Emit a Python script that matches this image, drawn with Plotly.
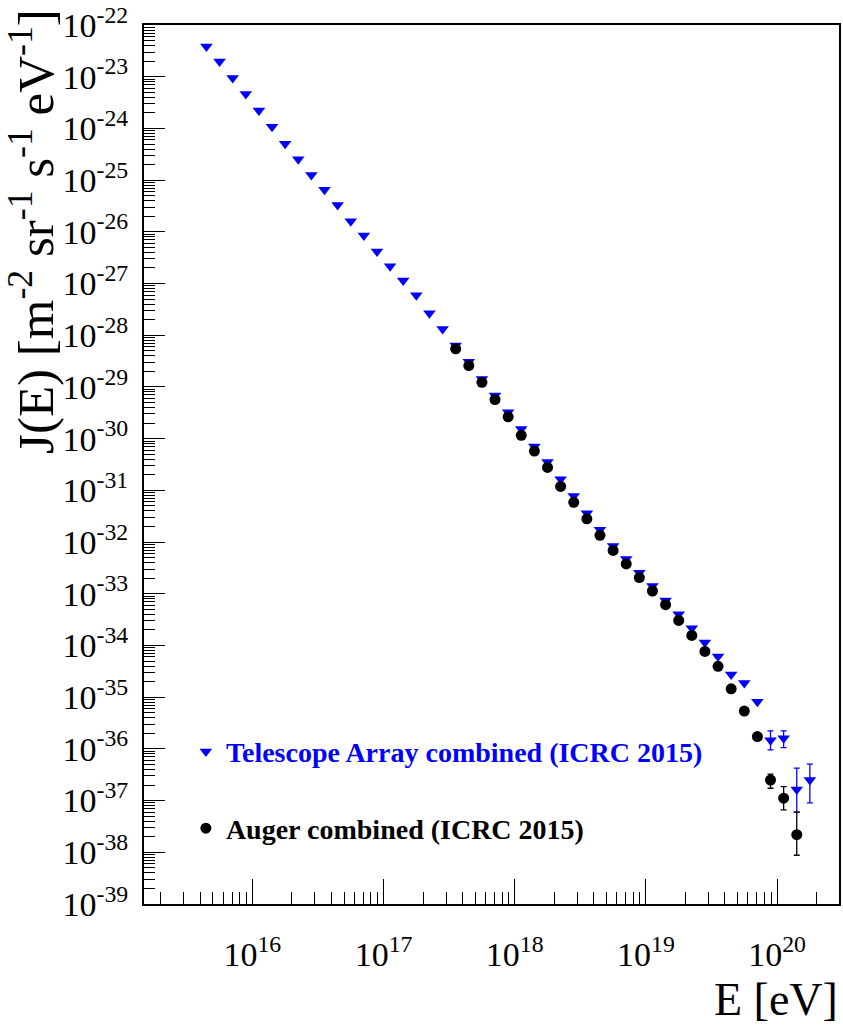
import math
import plotly.graph_objects as go

# ---------------- data ----------------
# Telescope Array combined (ICRC 2015): log10(E/eV) bin centres and flux J(E) [m^-2 sr^-1 s^-1 eV^-1]
ta_lgE = [15.65, 15.75, 15.85, 15.95, 16.05, 16.15, 16.25, 16.35, 16.45, 16.55,
          16.65, 16.75, 16.85, 16.95, 17.05, 17.15, 17.25, 17.35, 17.45, 17.55,
          17.65, 17.75, 17.85, 17.95, 18.05, 18.15, 18.25, 18.35, 18.45, 18.55,
          18.65, 18.75, 18.85, 18.95, 19.05, 19.15, 19.25, 19.35, 19.45, 19.55,
          19.65, 19.75, 19.85, 19.95, 20.05, 20.15, 20.25]
ta_J = [3.83e-23, 1.97e-23, 9.44e-24, 4.65e-24, 2.22e-24, 1.08e-24, 5.08e-25, 2.54e-25, 1.26e-25, 6.51e-26,
        3.30e-26, 1.61e-26, 8.49e-27, 4.18e-27, 2.15e-27, 1.14e-27, 5.96e-28, 2.65e-28, 1.32e-28, 6.34e-29,
        3.07e-29, 1.43e-29, 6.81e-30, 3.24e-30, 1.54e-30, 7.02e-31, 3.53e-31, 1.64e-31, 7.76e-32, 3.61e-32,
        1.73e-32, 8.38e-33, 4.71e-33, 2.54e-33, 1.41e-33, 7.43e-34, 4.00e-34, 2.15e-34, 1.14e-34, 6.14e-35,
        2.74e-35, 1.88e-35, 8.13e-36, 1.47e-36, 1.61e-36, 1.63e-37, 2.50e-37]
# upper / lower ends of the visible error bars (None = hidden under the marker)
ta_hi = [None] * 43 + [2.22e-36, 2.22e-36, 4.26e-37, 5.08e-37]
ta_lo = [None] * 43 + [9.57e-37, 1.06e-36, 5.96e-38, 9.04e-38]

# Auger combined (ICRC 2015)
au_lgE = [17.55, 17.65, 17.75, 17.85, 17.95, 18.05, 18.15, 18.25, 18.35, 18.45,
          18.55, 18.65, 18.75, 18.85, 18.95, 19.05, 19.15, 19.25, 19.35, 19.45,
          19.55, 19.65, 19.75, 19.85, 19.95, 20.05, 20.15]
au_J = [5.46e-29, 2.59e-29, 1.23e-29, 5.70e-30, 2.65e-30, 1.16e-30, 5.75e-31, 2.77e-31, 1.19e-31, 5.88e-32,
        2.81e-32, 1.35e-32, 6.87e-33, 3.78e-33, 2.06e-33, 1.13e-33, 6.14e-34, 3.05e-34, 1.56e-34, 7.67e-35,
        3.95e-35, 1.45e-35, 5.38e-36, 1.73e-36, 2.50e-37, 1.11e-37, 2.19e-38]
au_hi = [None] * 24 + [3.26e-37, 1.86e-37, 5.96e-38]
au_lo = [None] * 24 + [1.73e-37, 6.62e-38, 8.75e-39]

ta_name = "Telescope Array combined (ICRC 2015)"
au_name = "Auger combined (ICRC 2015)"

x_tick_exp = [16, 17, 18, 19, 20]
y_tick_exp = list(range(-39, -21))

FONT = "Liberation Serif"


def up_err(vals, hi):
    return [(h - v) if h is not None else float("nan") for v, h in zip(vals, hi)]


def dn_err(vals, lo):
    return [(v - l) if l is not None else float("nan") for v, l in zip(vals, lo)]


fig = go.Figure()
fig.add_trace(go.Scatter(
    x=[10.0 ** e for e in ta_lgE], y=ta_J, mode="markers", name=ta_name, legend="legend",
    showlegend=True,
    marker=dict(symbol="triangle-down", size=11, color="#0000ff", line=dict(width=0)),
    error_y=dict(type="data", symmetric=False, array=up_err(ta_J, ta_hi),
                 arrayminus=dn_err(ta_J, ta_lo), color="#0000ff", thickness=1.3, width=3),
))
fig.add_trace(go.Scatter(
    x=[10.0 ** e for e in au_lgE], y=au_J, mode="markers", name=au_name, legend="legend2",
    showlegend=True,
    marker=dict(symbol="circle", size=11, color="black", line=dict(width=0)),
    error_y=dict(type="data", symmetric=False, array=up_err(au_J, au_hi),
                 arrayminus=dn_err(au_J, au_lo), color="black", thickness=1.3, width=3),
))

W, H = 843, 1026
L, R, T, B = 144, 2, 20, 122
pw, ph = W - L - R, H - T - B

fig.update_layout(
    width=W, height=H,
    margin=dict(l=L, r=R, t=T, b=B),
    paper_bgcolor="white", plot_bgcolor="white",
    showlegend=True,
    font=dict(family=FONT, color="black"),
    legend=dict(x=(186 - L) / pw, y=(H - B - 751) / ph, xanchor="left", yanchor="middle",
                bgcolor="rgba(0,0,0,0)", borderwidth=0, itemwidth=30,
                font=dict(family=FONT, size=28, color="#0000ff", weight="bold")),
    legend2=dict(x=(186 - L) / pw, y=(H - B - 828) / ph, xanchor="left", yanchor="middle",
                 bgcolor="rgba(0,0,0,0)", borderwidth=0, itemwidth=30,
                 font=dict(family=FONT, size=28, color="black", weight="bold")),
    xaxis=dict(
        type="log", range=[15.174, 20.472], showgrid=False, zeroline=False,
        showline=True, linecolor="black", linewidth=2, mirror=True,
        ticks="inside", ticklen=25, tickwidth=1.3, tickcolor="black",
        tickmode="array", tickvals=[10.0 ** e for e in x_tick_exp],
        ticktext=["10<sup>%d</sup>" % e for e in x_tick_exp],
        tickfont=dict(family=FONT, size=34, color="black"),
        ticklabelstandoff=19,
        minor=dict(ticks="inside", ticklen=12, tickwidth=1.3, tickcolor="black", dtick="D1", showgrid=False),
    ),
    yaxis=dict(
        type="log", range=[-39.0005, -21.9995], showgrid=False, zeroline=False,
        showline=True, linecolor="black", linewidth=2, mirror=True,
        ticks="inside", ticklen=21, tickwidth=1.3, tickcolor="black",
        tickmode="array", tickvals=[10.0 ** e for e in y_tick_exp],
        ticktext=["10<sup>%d</sup>" % e for e in y_tick_exp],
        tickfont=dict(family=FONT, size=34, color="black"),
        ticklabelstandoff=7, ticklabeloverflow="allow",
        minor=dict(ticks="inside", ticklen=11, tickwidth=1.3, tickcolor="black", dtick="D1", showgrid=False),
    ),
    annotations=[
        dict(text="E [eV]", xref="paper", yref="paper", x=1 + 1 / pw, y=-(1000 - (H - B)) / ph,
             xanchor="right", yanchor="middle", showarrow=False,
             font=dict(family=FONT, size=46, color="black")),
        dict(text="J(E) [m<sup>-2</sup> sr<sup>-1</sup> s<sup>-1</sup> eV<sup>-1</sup>]",
             xref="paper", yref="paper", x=-(L - 31) / pw, y=1 + 18 / ph,
             xanchor="center", yanchor="top", textangle=-90, showarrow=False,
             font=dict(family=FONT, size=51, color="black")),
    ],
)

fig.write_html("out.html")
